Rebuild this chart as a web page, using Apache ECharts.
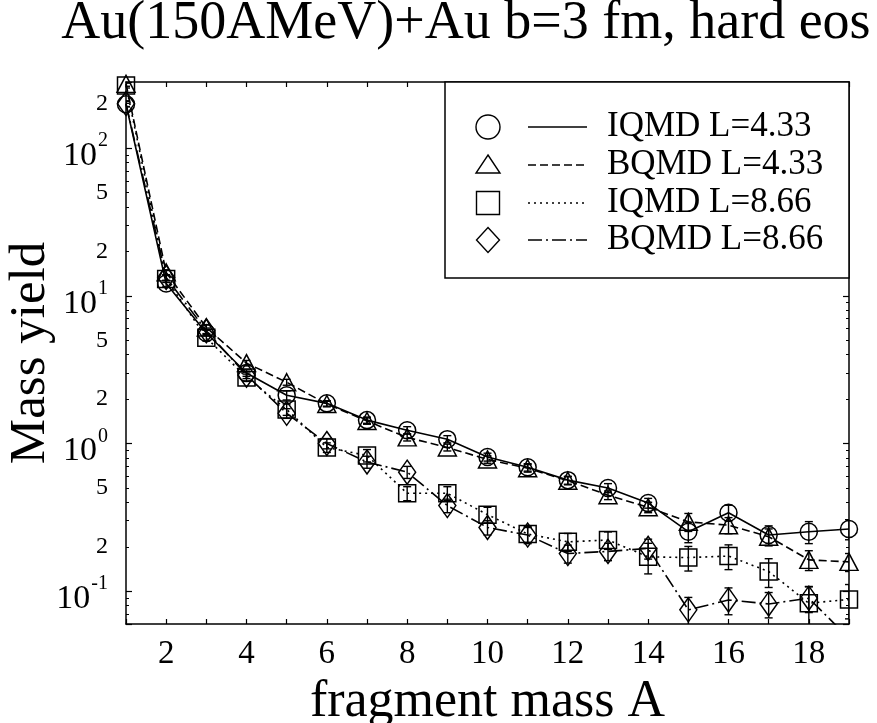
<!DOCTYPE html>
<html><head><meta charset="utf-8">
<script src="https://cdn.jsdelivr.net/npm/echarts@6/dist/echarts.min.js"></script>
<style>html,body{margin:0;padding:0;background:#fff}#c{width:877px;height:723px}</style>
</head><body><div id="c"></div>
<script>
// ---------- data ----------
const masses = [1,2,3,4,5,6,7,8,9,10,11,12,13,14,15,16,17,18,19];
const iqmd433    = [198, 12.1, 5.6, 3.0, 2.12, 1.87, 1.44, 1.23, 1.07, 0.81, 0.69, 0.565, 0.5, 0.395, 0.253, 0.34, 0.24, 0.253, 0.264];
const iqmd433Err = [8, 0.6, 0.25, 0.15, 0.15, 0.08, 0.07, 0.07, 0.06, 0.05, 0.04, 0.035, 0.035, 0.03, 0.04, 0.042, 0.037, 0.043, 0.041];
const bqmd433    = [272, 14.4, 6.1, 3.5, 2.6, 1.85, 1.42, 1.1, 0.94, 0.78, 0.68, 0.56, 0.447, 0.37, 0.295, 0.28, 0.234, 0.163, 0.158];
const bqmd433Err = [10, 0.6, 0.25, 0.15, 0.12, 0.08, 0.07, 0.06, 0.05, 0.045, 0.04, 0.035, 0.03, 0.03, 0.041, 0.035, 0.03, 0.025, 0.022];
const iqmd866    = [265, 13, 5.2, 2.8, 1.7, 0.94, 0.83, 0.46, 0.46, 0.33, 0.244, 0.216, 0.222, 0.171, 0.169, 0.173, 0.136, 0.083, 0.088];
const iqmd866Err = [10, 0.7, 0.25, 0.15, 0.15, 0.07, 0.08, 0.05, 0.05, 0.04, 0.03, 0.03, 0.03, 0.04, 0.032, 0.033, 0.03, 0.024, 0.023];
const bqmd866    = [200, 13.3, 5.8, 2.9, 1.6, 1.0, 0.75, 0.64, 0.38, 0.27, 0.24, 0.18, 0.186, 0.195, 0.0748, 0.0873, 0.082, 0.0897, 0.048];
const bqmd866Err = [9, 0.6, 0.25, 0.15, 0.12, 0.08, 0.07, 0.06, 0.04, 0.03, 0.03, 0.025, 0.025, 0.03, 0.016, 0.018, 0.016, 0.018, 0.01];
const seriesNames = ['IQMD L=4.33', 'BQMD L=4.33', 'IQMD L=8.66', 'BQMD L=8.66'];
const xTickLabels = [2, 4, 6, 8, 10, 12, 14, 16, 18];
const yTickLabels = [0.1, 0.2, 0.5, 1, 2, 5, 10, 20, 50, 100, 200];
const titleText = 'Au(150AMeV)+Au b=3 fm, hard eos';
const xTitle = 'fragment mass A';
const yTitle = 'Mass yield';

// ---------- styles ----------
const FONT = 'Liberation Serif';
const BLACK = '#000';
const CLEAR = 'rgba(0,0,0,0)';
const styles = [
  { symbol: 'circle',   size: 17,       dash: 'solid' },
  { symbol: 'triangle', size: [18, 17], dash: [8, 4] },
  { symbol: 'rect',     size: 17,       dash: [2, 4] },
  { symbol: 'diamond',  size: [17, 24], dash: [14, 4, 2, 4] }
];
const values = [iqmd433, bqmd433, iqmd866, bqmd866];
const errors = [iqmd433Err, bqmd433Err, iqmd866Err, bqmd866Err];

function pairs(ys) { return masses.map((m, i) => [m, ys[i]]); }
function errData(ys, es) { return masses.map((m, i) => [m, Math.max(ys[i] - es[i], ys[i] * 0.05), ys[i] + es[i]]); }

function renderErr(params, api) {
  const x = api.value(0);
  const lo = api.coord([x, api.value(1)]);
  const hi = api.coord([x, api.value(2)]);
  const w = 4;
  const st = { stroke: BLACK, lineWidth: 1.4 };
  return { type: 'group', children: [
    { type: 'line', shape: { x1: lo[0], y1: lo[1], x2: hi[0], y2: hi[1] }, style: st },
    { type: 'line', shape: { x1: lo[0] - w, y1: lo[1], x2: lo[0] + w, y2: lo[1] }, style: st },
    { type: 'line', shape: { x1: hi[0] - w, y1: hi[1], x2: hi[0] + w, y2: hi[1] }, style: st }
  ]};
}

const series = [];
values.forEach((ys, k) => {
  series.push({
    type: 'custom', name: seriesNames[k] + ' err', renderItem: renderErr,
    data: errData(ys, errors[k]), clip: true, silent: true, z: 2
  });
  series.push({
    type: 'line', name: seriesNames[k], data: pairs(ys),
    symbol: styles[k].symbol, symbolSize: styles[k].size, showAllSymbol: true,
    itemStyle: { color: CLEAR, borderColor: BLACK, borderWidth: 1.5 },
    lineStyle: { color: BLACK, width: 1.6, type: styles[k].dash },
    clip: true, z: 3
  });
});

const axisLineStyle = { lineStyle: { color: BLACK, width: 1.5 } };
const yMin = 0.06, yMax = 280;

const option = {
  animation: false,
  backgroundColor: '#fff',
  grid: { left: 126, right: 28, top: 82, bottom: 99, containLabel: false, outerBoundsMode: 'none' },
  xAxis: [
    {
      type: 'value', min: 1, max: 19, interval: 1, position: 'bottom',
      axisLine: axisLineStyle, splitLine: { show: false },
      axisTick: { inside: true, length: 5, lineStyle: { color: BLACK, width: 1.2 } },
      axisLabel: {
        color: BLACK, fontFamily: FONT, fontSize: 33, margin: 14,
        formatter: v => (xTickLabels.indexOf(v) >= 0 ? String(v) : '')
      },
      name: xTitle, nameLocation: 'middle', nameGap: 43,
      nameTextStyle: { color: BLACK, fontFamily: FONT, fontSize: 52 }
    },
    {
      type: 'value', min: 1, max: 19, interval: 1, position: 'top',
      axisLine: axisLineStyle, splitLine: { show: false },
      axisTick: { inside: true, length: 5, lineStyle: { color: BLACK, width: 1.2 } },
      axisLabel: { show: false }
    }
  ],
  yAxis: [
    {
      type: 'log', logBase: 10, min: yMin, max: yMax, position: 'left',
      axisLine: axisLineStyle, splitLine: { show: false }, minorSplitLine: { show: false },
      axisTick: { inside: true, length: 6, lineStyle: { color: BLACK, width: 1.2 } },
      minorTick: { show: true, splitNumber: 9, length: 3, lineStyle: { color: BLACK, width: 1 } },
      axisLabel: {
        customValues: yTickLabels,
        color: BLACK, fontFamily: FONT, fontSize: 24, margin: 18, align: 'right',
        formatter: function (v) {
          const lg = Math.log10(v);
          const e = Math.round(lg);
          if (Math.abs(lg - e) < 1e-6) return '{p|10}{s|' + e + '}';
          const m = Math.round(v / Math.pow(10, Math.floor(lg + 1e-9)));
          return '{m|' + m + '}';
        },
        rich: {
          p: { fontFamily: FONT, fontSize: 34, lineHeight: 34, color: BLACK, padding: [16, 0, 0, 0] },
          s: { fontFamily: FONT, fontSize: 20, lineHeight: 20, color: BLACK, verticalAlign: 'top', padding: [0, 0, 0, 1] },
          m: { fontFamily: FONT, fontSize: 24, lineHeight: 24, color: BLACK }
        }
      },
      name: yTitle, nameLocation: 'middle', nameGap: 70, nameRotate: 90, nameMoveOverlap: false,
      nameTextStyle: { color: BLACK, fontFamily: FONT, fontSize: 51 }
    },
    {
      type: 'log', logBase: 10, min: yMin, max: yMax, position: 'right',
      axisLine: axisLineStyle, splitLine: { show: false }, minorSplitLine: { show: false },
      axisTick: { inside: true, length: 6, lineStyle: { color: BLACK, width: 1.2 } },
      minorTick: { show: true, splitNumber: 9, length: 3, lineStyle: { color: BLACK, width: 1 } },
      axisLabel: { show: false }
    }
  ],
  series: series
};

const chart = echarts.init(document.getElementById('c'), null, { renderer: 'canvas' });
chart.setOption(option);

// ---------- title & legend (graphic) ----------
const legendX = 445, legendY = 82, legendW = 404, legendH = 196;
const rowY = [127, 165, 203, 240];
const symX = 488, lineX1 = 528, lineX2 = 587, textX = 607;
const lineDashes = [null, [8, 4], [2, 4], [14, 4, 2, 4]];
const legendEls = [
  { type: 'rect', shape: { x: legendX, y: legendY, width: legendW, height: legendH },
    style: { fill: '#fff', stroke: BLACK, lineWidth: 1.5 }, z: 10 }
];
function legendSymbol(k, cx, cy) {
  const st = { fill: CLEAR, stroke: BLACK, lineWidth: 1.4 };
  if (k === 0) return { type: 'circle', shape: { cx: cx, cy: cy, r: 12 }, style: st, z: 11 };
  if (k === 1) return { type: 'polygon', shape: { points: [[cx, cy - 10], [cx + 12, cy + 8], [cx - 12, cy + 8]] }, style: st, z: 11 };
  if (k === 2) return { type: 'rect', shape: { x: cx - 11.5, y: cy - 11.5, width: 23, height: 23 }, style: st, z: 11 };
  return { type: 'polygon', shape: { points: [[cx, cy - 12.5], [cx + 11.5, cy], [cx, cy + 12.5], [cx - 11.5, cy]] }, style: st, z: 11 };
}
seriesNames.forEach((name, k) => {
  const cy = rowY[k];
  legendEls.push(legendSymbol(k, symX, cy));
  legendEls.push({ type: 'line', shape: { x1: lineX1, y1: cy, x2: lineX2, y2: cy },
    style: { stroke: BLACK, lineWidth: 1.3, lineDash: lineDashes[k] }, z: 11 });
  legendEls.push({ type: 'text', x: textX, y: cy,
    style: { text: name, fill: BLACK, font: '35px "' + FONT + '"', textAlign: 'left', textVerticalAlign: 'middle' }, z: 11 });
});

chart.setOption({
  graphic: [
    { type: 'text', x: 466, y: 24,
      style: { text: titleText, fill: BLACK, font: '54px "' + FONT + '"', textAlign: 'center', textVerticalAlign: 'middle' } },
    { type: 'group', children: legendEls }
  ]
});
</script></body></html>
